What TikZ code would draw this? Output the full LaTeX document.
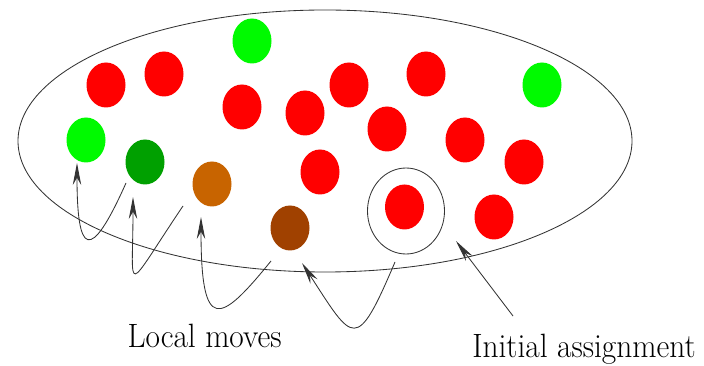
\documentclass[tikz,border=0pt]{standalone}
\usepackage{graphicx}
\usepackage{xcolor}
\usetikzlibrary{shapes.geometric, arrows.meta}

\definecolor{litegreen}{RGB}{0,250,0}
\definecolor{darkgreen}{RGB}{0,160,0}
\definecolor{ochre}{RGB}{200,100,0}
\definecolor{rust}{RGB}{160,65,0}

\begin{document}
\begin{tikzpicture}[
    dot/.style={ellipse, minimum width=0.975cm, minimum height=1.125cm, inner sep=0pt},
    move/.style={-{Stealth[length=5.5mm, width=2.1mm, inset=1.8mm]}, line width=0.6pt, draw=black!80},
    caption/.style={anchor=base, inner sep=0pt, font=\fontsize{24}{28}\selectfont}
]
\useasboundingbox (0,0) rectangle (17.6,9.15);
% search space
\draw[line width=0.6pt, black!80] (8.125,5.625) ellipse [x radius=7.675cm, y radius=3.275cm];
% assignments
\node[dot, fill=litegreen] (g1) at (6.30, 8.125) {};
\node[dot, fill=red] (r1) at (2.65, 7.025) {};
\node[dot, fill=red] (r2) at (4.10, 7.30) {};
\node[dot, fill=red] (r3) at (6.05, 6.475) {};
\node[dot, fill=red] (r4) at (7.625, 6.325) {};
\node[dot, fill=red] (r5) at (8.725, 7.025) {};
\node[dot, fill=red] (r6) at (10.65, 7.30) {};
\node[dot, fill=litegreen] (g2) at (13.55, 7.025) {};
\node[dot, fill=litegreen] (g3) at (2.15, 5.65) {};
\node[dot, fill=darkgreen] (dg) at (3.625, 5.10) {};
\node[dot, fill=red] (r7) at (9.675, 5.925) {};
\node[dot, fill=red] (r8) at (11.625, 5.65) {};
\node[dot, fill=red] (r9) at (13.1, 5.1) {};
\node[dot, fill=red] (r10) at (8.0, 4.85) {};
\node[dot, fill=ochre] (og) at (5.30, 4.55) {};
\node[dot, fill=rust] (br) at (7.25, 3.45) {};
\node[dot, fill=red] (start) at (10.1125, 3.975) {};
\node[dot, fill=red] (r11) at (12.35, 3.725) {};
\node[ellipse, draw=black!80, line width=0.6pt, minimum width=1.925cm, minimum height=2.15cm] (ring) at (10.15, 3.875) {};
% labels
\node[caption] (local) at (5.1125, 0.45) {\scalebox{0.93}[1]{Local moves}};
\node[caption] (init) at (14.6, 0.2) {\scalebox{0.93}[1]{Initial assignment}};
% local moves
\draw[move] ([shift={(-0.475,-0.525)}]dg.center) to[out=-114, in=-90, out distance=2.25cm, in distance=2.27cm] ([shift={(-0.225,-0.575)}]g3.center);
\draw[move] ([shift={(-0.725,-0.55)}]og.center) to[out=-124, in=-90, out distance=2.7cm, in distance=2.47cm] ([shift={(-0.3,-0.875)}]dg.center);
\draw[move] ([shift={(-0.475,-0.825)}]br.center) to[out=-129, in=-90, out distance=2.05cm, in distance=2.92cm] ([shift={(-0.275,-0.825)}]og.center);
\draw[move] ([shift={(-0.275,-1.275)}]ring.center) to[out=-113, in=-57, out distance=2.5cm, in distance=2.36cm] ([shift={(0.3,-0.875)}]br.center);
\draw[move] ([shift={(-1.775,1.05)}]init.base) -- ([shift={(1.25,-0.75)}]ring.center);
\end{tikzpicture}
\end{document}
